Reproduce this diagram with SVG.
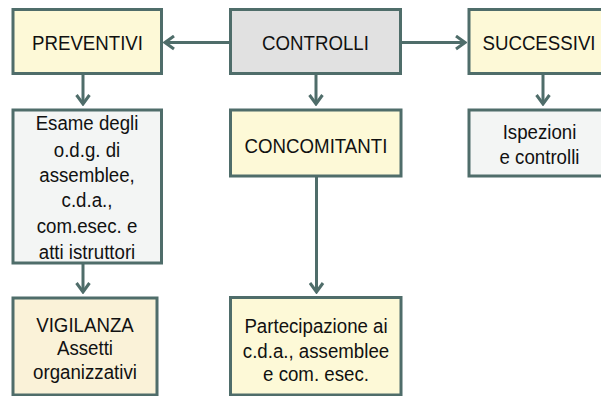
<svg xmlns="http://www.w3.org/2000/svg" width="601" height="396" viewBox="0 0 601 396">
  <style>
    .box { stroke: #4f6d6a; stroke-width: 3; }
    .yellow { fill: #fdf9d7; }
    .beige { fill: #faf2d8; }
    .grey { fill: #e1e1e1; }
    .pale { fill: #f3f5f4; }
    .label { font-family: "Liberation Sans", Arial, sans-serif; font-size: 21px; fill: #111111; text-anchor: middle; }
    .conn { stroke: #4f6d6a; stroke-width: 3; fill: none; }
  </style>
  <defs>
    <marker id="arrow" markerUnits="userSpaceOnUse" viewBox="-12 -8 14 16" refX="0" refY="0" markerWidth="14" markerHeight="16" orient="auto">
      <path d="M-9,-6.5 L0,0 L-9,6.5" fill="none" stroke="#4f6d6a" stroke-width="3"/>
    </marker>
  </defs>

  <!-- connectors -->
  <g id="connectors">
    <line class="conn" x1="230" y1="42.5" x2="165" y2="42.5" marker-end="url(#arrow)"/>
    <line class="conn" x1="401" y1="42.5" x2="465" y2="42.5" marker-end="url(#arrow)"/>
    <line class="conn" x1="83" y1="74" x2="83" y2="104" marker-end="url(#arrow)"/>
    <line class="conn" x1="316" y1="74" x2="316" y2="104" marker-end="url(#arrow)"/>
    <line class="conn" x1="543" y1="74" x2="543" y2="104" marker-end="url(#arrow)"/>
    <line class="conn" x1="83" y1="263" x2="83" y2="292" marker-end="url(#arrow)"/>
    <line class="conn" x1="316.5" y1="176" x2="316.5" y2="292" marker-end="url(#arrow)"/>
  </g>

  <!-- top row -->
  <g id="preventivi">
    <rect class="box yellow" x="13" y="9.5" width="148.5" height="64"/>
    <text class="label" transform="translate(87.5 50) scale(0.89 1)">PREVENTIVI</text>
  </g>
  <g id="controlli">
    <rect class="box grey" x="230.5" y="9.5" width="170" height="64"/>
    <text class="label" transform="translate(315.5 50) scale(0.89 1)">CONTROLLI</text>
  </g>
  <g id="successivi">
    <rect class="box yellow" x="469" y="9.5" width="145" height="64"/>
    <text class="label" transform="translate(539 50) scale(0.89 1)">SUCCESSIVI</text>
  </g>

  <!-- second row -->
  <g id="esame">
    <rect class="box pale" x="13" y="110" width="148.5" height="153"/>
    <text class="label" transform="translate(87 130) scale(0.89 1)">Esame degli</text>
    <text class="label" transform="translate(87 157) scale(0.89 1)">o.d.g. di</text>
    <text class="label" transform="translate(87 182) scale(0.89 1)">assemblee,</text>
    <text class="label" transform="translate(87 207) scale(0.89 1)">c.d.a.,</text>
    <text class="label" transform="translate(87 233) scale(0.89 1)">com.esec. e</text>
    <text class="label" transform="translate(87 259) scale(0.89 1)">atti istruttori</text>
  </g>
  <g id="concomitanti">
    <rect class="box yellow" x="230.5" y="110" width="170.5" height="66"/>
    <text class="label" transform="translate(316 153) scale(0.89 1)">CONCOMITANTI</text>
  </g>
  <g id="ispezioni">
    <rect class="box pale" x="469" y="110" width="145" height="66"/>
    <text class="label" transform="translate(539.5 139) scale(0.89 1)">Ispezioni</text>
    <text class="label" transform="translate(539.5 164) scale(0.89 1)">e controlli</text>
  </g>

  <!-- bottom row -->
  <g id="vigilanza">
    <rect class="box beige" x="13" y="298" width="144" height="97"/>
    <text class="label" transform="translate(85 332) scale(0.89 1)">VIGILANZA</text>
    <text class="label" transform="translate(85 355) scale(0.89 1)">Assetti</text>
    <text class="label" transform="translate(85 379) scale(0.89 1)">organizzativi</text>
  </g>
  <g id="partecipazione">
    <rect class="box yellow" x="230.5" y="297.5" width="170.5" height="97.5"/>
    <text class="label" transform="translate(316 333) scale(0.89 1)">Partecipazione ai</text>
    <text class="label" transform="translate(316 357.5) scale(0.89 1)">c.d.a., assemblee</text>
    <text class="label" transform="translate(316 381) scale(0.89 1)">e com. esec.</text>
  </g>
</svg>
